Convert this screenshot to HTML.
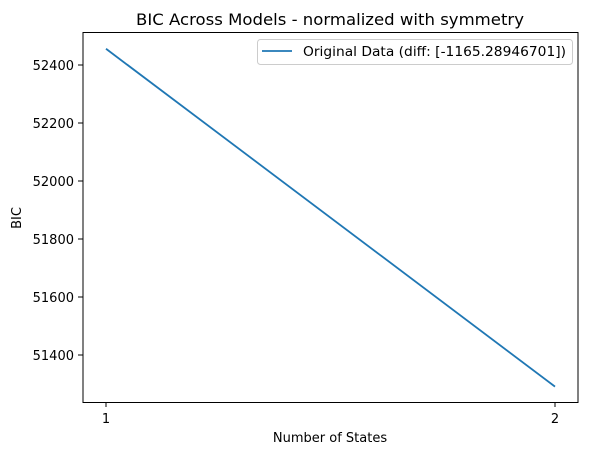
<!DOCTYPE html>
<html><head><meta charset="utf-8"><style>
body{margin:0;background:#fff;}
svg{display:block;font-family:"DejaVu Sans","Liberation Sans",sans-serif;}
</style></head><body>
<svg width="589" height="455" viewBox="0 0 589 455">
<text x="136" y="25" font-size="16" textLength="388" lengthAdjust="spacingAndGlyphs">BIC Across Models - normalized with symmetry</text>
<g id="yticks"></g><g id="xticks"></g>
<path id="line" fill="none" stroke="#1f77b4" stroke-width="1.8"/>
<rect x="83" y="32.5" width="495" height="370" fill="none" stroke="#000" stroke-width="1"/>
<text x="330" y="442" font-size="13" text-anchor="middle">Number of States</text>
<text transform="translate(21,218) rotate(-90)" font-size="13" text-anchor="middle">BIC</text>
<g>
<rect x="257.5" y="39.5" width="315" height="25" rx="3" fill="#fff" stroke="#ccc"/>
<line x1="262" y1="51" x2="292" y2="51" stroke="#1f77b4" stroke-width="1.8"/>
<text x="303" y="56" font-size="13.5" textLength="263" lengthAdjust="spacingAndGlyphs">Original Data (diff: [-1165.28946701])</text>
</g>
</svg>
<script>
const states=[1,2];
const bicValues=[52456,51291];
const yTickLabels=[51400,51600,51800,52000,52200,52400];
const xTickLabels=[1,2];
const ns="http://www.w3.org/2000/svg";
const x=v=>106+(v-1)*449;
const y=v=>65+(52400-v)*0.29;
const yt=document.getElementById('yticks');
yTickLabels.forEach(t=>{
const l=document.createElementNS(ns,'line');
l.setAttribute('x1',78);l.setAttribute('x2',83);l.setAttribute('y1',y(t));l.setAttribute('y2',y(t));l.setAttribute('stroke','#000');


yt.appendChild(l);
const s=document.createElementNS(ns,'text');
s.setAttribute('x',74);s.setAttribute('y',y(t)+5);s.setAttribute('font-size','13');s.setAttribute('text-anchor','end');s.textContent=t;


yt.appendChild(s);
});
const xt=document.getElementById('xticks');
xTickLabels.forEach(t=>{
const l=document.createElementNS(ns,'line');
l.setAttribute('x1',x(t));l.setAttribute('x2',x(t));l.setAttribute('y1',402);l.setAttribute('y2',407);l.setAttribute('stroke','#000');


xt.appendChild(l);
const s=document.createElementNS(ns,'text');
s.setAttribute('x',x(t));s.setAttribute('y',423);s.setAttribute('font-size','13');s.setAttribute('text-anchor','middle');s.textContent=t;


xt.appendChild(s);
});
document.getElementById('line').setAttribute('d',states.map((s,i)=>(i?'L':'M')+x(s)+' '+y(bicValues[i])).join(' '));
</script>
</body></html>
